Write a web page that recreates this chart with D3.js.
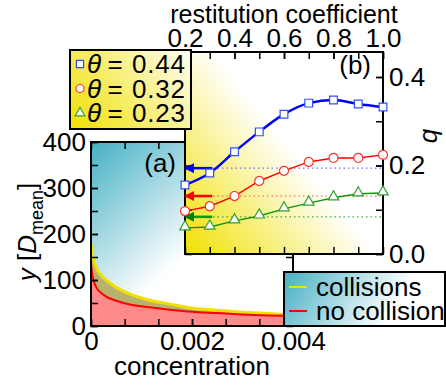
<!DOCTYPE html>
<html>
<head>
<meta charset="utf-8">
<script src="https://cdn.jsdelivr.net/npm/d3@7"></script>
<style>
  body { margin: 0; background: #fff; }
  svg text { font-family: "Liberation Sans", Arial, sans-serif; fill: #000; }
</style>
</head>
<body>
<svg id="chart" width="446" height="386"></svg>
<script>
// main panel (a): y [D_mean] vs concentration
const concentration = [0, 0.00002, 0.00005, 0.0001, 0.0002, 0.0003, 0.0005, 0.0008, 0.0012, 0.0016, 0.002, 0.0025, 0.003, 0.0035, 0.004];
const yCollisions  = [180, 160, 145, 128, 110, 100, 84, 68, 55, 47, 39, 34, 30, 27, 24];
const yNoCollision = [137, 115, 100, 85, 72, 64, 55, 46, 40, 35, 31, 28, 25, 23, 22];
const mainXTicks = [0, 0.002, 0.004];
const mainYTicks = [0, 100, 200, 300, 400];

// inset (b): q vs restitution coefficient
const restitution = [0.2, 0.3, 0.4, 0.5, 0.6, 0.7, 0.8, 0.9, 1.0];
const thetas = ["0.44", "0.32", "0.23"];
const q044 = [0.156, 0.183, 0.231, 0.276, 0.316, 0.341, 0.348, 0.339, 0.332];
const q032 = [0.097, 0.108, 0.131, 0.165, 0.188, 0.208, 0.217, 0.217, 0.224];
const q023 = [0.059, 0.061, 0.075, 0.086, 0.102, 0.115, 0.127, 0.136, 0.138];
const qNoCollision = [0.194, 0.131, 0.084];
const insetXTicks = [0.2, 0.4, 0.6, 0.8, 1.0];
const insetYTicks = [0, 0.2, 0.4];

const svg = d3.select("#chart");
const defs = svg.append("defs");

function grad(id, x1, y1, x2, y2, stops) {
  const g = defs.append("linearGradient").attr("id", id)
    .attr("gradientUnits", "userSpaceOnUse")
    .attr("x1", x1).attr("y1", y1).attr("x2", x2).attr("y2", y2);
  stops.forEach(s => g.append("stop").attr("offset", s[0]).attr("stop-color", s[1]));
}
const teal = "#45b0c4", yel = "#f0e000";
grad("gMain", 91, 142, 192, 250, [[0, teal], [1, "#fff"]]);
grad("gLeg2", 284, 272, 380, 332, [[0, teal], [1, "#fff"]]);
grad("gInset", 185, 254, 300, 160, [[0, yel], [1, "#fff"]]);
grad("gLeg1", 70, 129, 185, 35, [[0, yel], [1, "#fff"]]);

["blue", "red", "green"].forEach((c, i) => {
  defs.append("marker").attr("id", "arr" + i)
    .attr("viewBox", "0 0 10 10").attr("refX", 8).attr("refY", 5)
    .attr("markerWidth", 4).attr("markerHeight", 4).attr("orient", "auto")
    .attr("markerUnits", "strokeWidth")
    .append("path").attr("d", "M0,0L10,5L0,10z").attr("fill", c);
});

// ---------- main panel ----------
const x = d3.scaleLinear().domain([0, 0.004]).range([91, 293]);
const y = d3.scaleLinear().domain([0, 400]).range([326, 142]);

defs.append("clipPath").attr("id", "clipMain").append("rect")
  .attr("x", 91).attr("y", 142).attr("width", 202).attr("height", 184);

svg.append("rect").attr("x", 91).attr("y", 142).attr("width", 202).attr("height", 184)
  .attr("fill", "url(#gMain)");

const pts = concentration.map((c, i) => ({ c, a: yCollisions[i], b: yNoCollision[i] }));
const gm = svg.append("g").attr("clip-path", "url(#clipMain)");
gm.append("path").datum(pts).attr("fill", "#ff8a8a")
  .attr("d", d3.area().curve(d3.curveMonotoneX).x(d => x(d.c)).y0(y(0)).y1(d => y(d.b)));
gm.append("path").datum(pts).attr("fill", "#b9b26f")
  .attr("d", d3.area().curve(d3.curveMonotoneX).x(d => x(d.c)).y0(d => y(d.b)).y1(d => y(d.a)));
gm.append("path").datum(pts).attr("fill", "none").attr("stroke", "#f0e000").attr("stroke-width", 3)
  .attr("d", d3.line().curve(d3.curveMonotoneX).x(d => x(d.c)).y(d => y(d.a)));
gm.append("path").datum(pts).attr("fill", "none").attr("stroke", "#ff0000").attr("stroke-width", 2)
  .attr("d", d3.line().curve(d3.curveMonotoneX).x(d => x(d.c)).y(d => y(d.b)));

const minorX = d3.range(0, 7).map(i => i * 0.004 / 6);
const minorY = d3.range(0, 9).map(i => i * 50);
const fmtMain = d => d === 0 ? "0" : d3.format(".3f")(d);

function ticksOnly(axis, vals, size) { return axis.tickValues(vals).tickSize(size).tickFormat(""); }
function styleAxis(g) {
  g.select(".domain").remove();
  g.selectAll("line").attr("stroke", "#000").attr("stroke-width", 1.5);
  g.selectAll("text").attr("font-size", 26).attr("font-family", "Liberation Sans, Arial, sans-serif").attr("fill", "#000");
}

svg.append("g").attr("transform", "translate(0,326)")
  .call(d3.axisBottom(x).tickValues(mainXTicks).tickSize(-7).tickPadding(6).tickFormat(fmtMain))
  .call(styleAxis);
svg.append("g").attr("transform", "translate(0,326)").call(ticksOnly(d3.axisBottom(x), minorX, -7)).call(styleAxis);
svg.append("g").attr("transform", "translate(0,142)").call(ticksOnly(d3.axisTop(x), minorX, -7)).call(styleAxis);
svg.append("g").attr("transform", "translate(91,0)")
  .call(d3.axisLeft(y).tickValues(mainYTicks).tickSize(-7).tickPadding(5))
  .call(styleAxis);
svg.append("g").attr("transform", "translate(91,0)").call(ticksOnly(d3.axisLeft(y), minorY, -7)).call(styleAxis);
svg.append("g").attr("transform", "translate(293,0)").call(ticksOnly(d3.axisRight(y), minorY, -7)).call(styleAxis);

svg.append("rect").attr("x", 91).attr("y", 142).attr("width", 202).attr("height", 184)
  .attr("fill", "none").attr("stroke", "#000").attr("stroke-width", 2);

svg.append("text").attr("x", 176).attr("y", 172).attr("text-anchor", "end").attr("font-size", 26).text("(a)");

svg.append("text").attr("x", 192).attr("y", 375).attr("text-anchor", "middle").attr("font-size", 26).text("concentration");

const yl = svg.append("text").attr("transform", "translate(36,232) rotate(-90)")
  .attr("text-anchor", "middle").attr("font-size", 26);
yl.append("tspan").attr("font-style", "italic").text("y");
yl.append("tspan").text(" [");
yl.append("tspan").attr("font-style", "italic").text("D");
yl.append("tspan").attr("font-size", 18).attr("dy", 7).text("mean");
yl.append("tspan").attr("dy", -7).text("]");

// ---------- inset (b) ----------
const xi = d3.scaleLinear().domain([0.2, 1.0]).range([185, 383]);
const yi = d3.scaleLinear().domain([0, 0.4565]).range([254, 52]);

svg.append("rect").attr("x", 185).attr("y", 52).attr("width", 198).attr("height", 202)
  .attr("fill", "url(#gInset)");

const minorXi = d3.range(2, 11).map(i => i / 10);
const minorYi = [0, 0.1, 0.2, 0.3, 0.4];
svg.append("g").attr("transform", "translate(0,52)")
  .call(d3.axisTop(xi).tickValues(insetXTicks).tickSize(-7).tickPadding(5).tickFormat(d3.format(".1f")))
  .call(styleAxis);
svg.append("g").attr("transform", "translate(0,52)").call(ticksOnly(d3.axisTop(xi), minorXi, -7)).call(styleAxis);
svg.append("g").attr("transform", "translate(0,254)").call(ticksOnly(d3.axisBottom(xi), minorXi, -7)).call(styleAxis);
svg.append("g").attr("transform", "translate(383,0)")
  .call(d3.axisRight(yi).tickValues(insetYTicks).tickSize(-7).tickPadding(6).tickFormat(d3.format(".1f")))
  .call(styleAxis);
svg.append("g").attr("transform", "translate(383,0)").call(ticksOnly(d3.axisRight(yi), minorYi, -7)).call(styleAxis);
svg.append("g").attr("transform", "translate(185,0)").call(ticksOnly(d3.axisLeft(yi), minorYi, -7)).call(styleAxis);

svg.append("rect").attr("x", 185).attr("y", 52).attr("width", 198).attr("height", 202)
  .attr("fill", "none").attr("stroke", "#000").attr("stroke-width", 2);

svg.append("text").attr("x", 284).attr("y", 23).attr("text-anchor", "middle").attr("font-size", 25)
  .text("restitution coefficient");
svg.append("text").attr("transform", "translate(437,136) rotate(-90)").attr("text-anchor", "middle")
  .attr("font-size", 26).attr("font-style", "italic").text("q");
svg.append("text").attr("x", 371).attr("y", 74).attr("text-anchor", "end").attr("font-size", 26).text("(b)");

const series = [
  { vals: q044, color: "#0000ff", mark: "#3050ff", width: 2.5, sym: d3.symbolSquare, curve: d3.curveMonotoneX },
  { vals: q032, color: "#ff0000", mark: "#ff3030", width: 1.4, sym: d3.symbolCircle, curve: d3.curveLinear },
  { vals: q023, color: "#10960f", mark: "#30a030", width: 1.4, sym: d3.symbolTriangle, curve: d3.curveLinear }
];
const dotCols = ["#6a6aff", "#ff6a6a", "#40a840"];

series.forEach((s, k) => {
  // dotted reference (no collision) and arrow to the axis
  svg.append("line").attr("x1", xi(0.313)).attr("x2", xi(1.0))
    .attr("y1", yi(qNoCollision[k])).attr("y2", yi(qNoCollision[k]))
    .attr("stroke", dotCols[k]).attr("stroke-width", 1.2).attr("stroke-dasharray", "1.5,3");
  svg.append("line").attr("x1", xi(0.31)).attr("x2", xi(0.2) + 1)
    .attr("y1", yi(qNoCollision[k])).attr("y2", yi(qNoCollision[k]))
    .attr("stroke", s.color).attr("stroke-width", 2.5).attr("marker-end", "url(#arr" + k + ")");
});

series.forEach(s => {
  const d = restitution.map((r, i) => [r, s.vals[i]]);
  svg.append("path").datum(d).attr("fill", "none").attr("stroke", s.color).attr("stroke-width", s.width)
    .attr("d", d3.line().curve(s.curve).x(p => xi(p[0])).y(p => yi(p[1])));
  const sz = s.sym === d3.symbolTriangle ? 48 : (s.sym === d3.symbolCircle ? 64 : 60);
  svg.selectAll(null).data(d).join("path")
    .attr("transform", p => `translate(${xi(p[0])},${yi(p[1]) + (s.sym === d3.symbolTriangle ? -1 : 0)})`)
    .attr("d", d3.symbol(s.sym, sz)).attr("fill", "#fff").attr("stroke", s.mark).attr("stroke-width", 1.2);
});

// ---------- legend θ ----------
svg.append("rect").attr("x", 70).attr("y", 50).attr("width", 121).attr("height", 79)
  .attr("fill", "url(#gLeg1)").attr("stroke", "#000").attr("stroke-width", 2);
series.forEach((s, k) => {
  const cy = 64 + k * 24.5;
  const sz = s.sym === d3.symbolTriangle ? 40 : 50;
  svg.append("path").attr("transform", `translate(80,${cy})`).attr("d", d3.symbol(s.sym, sz))
    .attr("fill", "#fff").attr("stroke", s.mark).attr("stroke-width", 1.2);
  svg.append("text").attr("x", 87).attr("y", cy + 9).attr("font-size", 26)
    .attr("font-style", "italic").attr("font-family", "DejaVu Serif, serif").text("θ");
  svg.append("text").attr("x", 115).attr("y", cy + 9).attr("font-size", 26).attr("text-anchor", "middle").text("=");
  svg.append("text").attr("x", 132).attr("y", cy + 9).attr("font-size", 26).attr("textLength", 53).text(thetas[k]);
});

// ---------- legend collisions ----------
svg.append("rect").attr("x", 284).attr("y", 272).attr("width", 161).attr("height", 54)
  .attr("fill", "url(#gLeg2)").attr("stroke", "#000").attr("stroke-width", 2);
[["collisions", "#f0e000"], ["no collision", "#ff0000"]].forEach((e, k) => {
  const cy = 287 + k * 24;
  svg.append("line").attr("x1", 289).attr("x2", 307).attr("y1", cy).attr("y2", cy)
    .attr("stroke", e[1]).attr("stroke-width", 2);
  svg.append("text").attr("x", 316).attr("y", cy + 9).attr("font-size", 26).text(e[0]);
});
</script>
</body>
</html>
